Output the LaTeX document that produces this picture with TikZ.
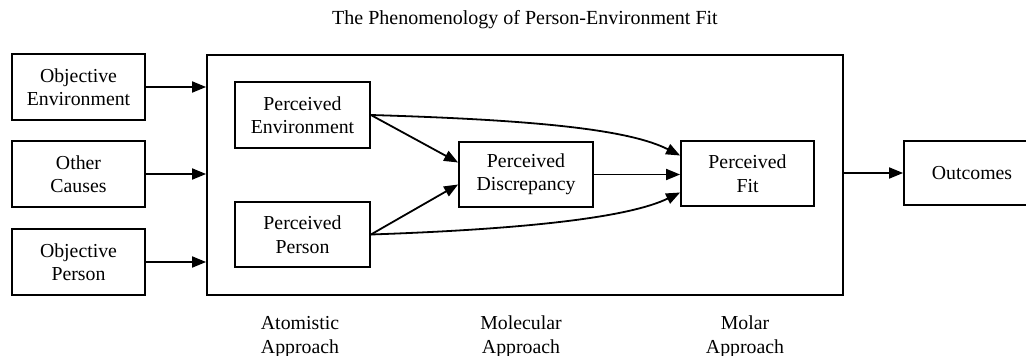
\documentclass[tikz,border=0pt]{standalone}
\usepackage{fontspec}
\setmainfont{Liberation Serif}
\usetikzlibrary{arrows.meta,calc}
\begin{document}
\begin{tikzpicture}[x=1pt,y=-1pt,
  box/.style={draw, line width=1.8pt, align=center, inner sep=0pt,
    font=\fontsize{19.8}{23.5}\selectfont},
  lbl/.style={align=center, inner sep=0pt, font=\fontsize{19.8}{24}\selectfont},
  arr/.style={line width=1.8pt, -{Triangle[length=14pt,width=11pt]}}]
\useasboundingbox (0,0) rectangle (1026,356);
\clip (0,0) rectangle (1026,356);
\node[lbl, font=\fontsize{20}{24}\selectfont] (title) at (525,20) {The Phenomenology of Person-Environment Fit};
% left boxes
\node[box, minimum width=133, minimum height=66] (oe) at (78.5,87) {Objective\\Environment};
\node[box, minimum width=133, minimum height=66] (oc) at (78.5,174) {Other\\Causes};
\node[box, minimum width=133, minimum height=66] (op) at (78.5,262) {Objective\\Person};
% big box
\node[draw, line width=1.8pt, minimum width=636, minimum height=240, inner sep=0pt] (big) at (525,175) {};
% inner boxes
\node[box, minimum width=135, minimum height=66] (pe) at (302.5,115) {Perceived\\Environment};
\node[box, minimum width=135, minimum height=65] (pp) at (302.5,234.5) {Perceived\\Person};
\node[box, minimum width=134, minimum height=65] (pd) at (526,174.5) {Perceived\\Discrepancy};
\node[box, minimum width=133, minimum height=65] (pf) at (747.5,173.5) {Perceived\\Fit};
% outcomes
\node[box, minimum width=136, minimum height=64] (out) at (972,173) {Outcomes};
% labels
\node[lbl] (atom) at (300,337) {Atomistic\\Approach};
\node[lbl] (mole) at (521,337) {Molecular\\Approach};
\node[lbl] (mola) at (745,337) {Molar\\Approach};
% arrows
\draw[arr] (oe.east) -- (oe.east -| big.west);
\draw[arr] (oc.east) -- (oc.east -| big.west);
\draw[arr] (op.east) -- (op.east -| big.west);
\draw[arr] (big.east |- out.west) -- (out.west);
\draw[arr] (pe.east) -- ($(pd.west)+(0,-12)$);
\draw[arr] (pp.east) -- ($(pd.west)+(0,10)$);
\draw[arr] (pd.east) -- (pd.east -| pf.west);
\draw[arr] (pe.east) .. controls (540,120) and (630,130) .. ($(pf.west)+(0,-18)$);
\draw[arr] (pp.east) .. controls (530,229) and (630,217) .. ($(pf.west)+(0,19)$);
\end{tikzpicture}
\end{document}
